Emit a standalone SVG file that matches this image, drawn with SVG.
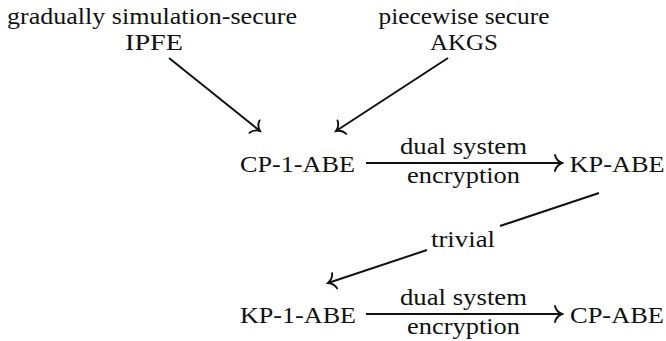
<svg xmlns="http://www.w3.org/2000/svg" width="666" height="341" viewBox="0 0 666 341">
<style>
text { font-family: "Liberation Serif", "DejaVu Serif", "Times New Roman", serif; font-size: 23px; fill: #111; text-anchor: middle; }
.edge { fill: none; stroke: #111; stroke-width: 2; marker-end: url(#to); }
</style>
<defs>
<marker id="to" markerUnits="userSpaceOnUse" markerWidth="24" markerHeight="24" viewBox="-12 -12 24 24" refX="0" refY="0" orient="auto" overflow="visible">
<path d="M-7,-8 C-6,-3.5 -2.5,-1 0,0 C-2.5,1 -6,3.5 -7,8" fill="none" stroke="#111" stroke-width="1.9" stroke-linecap="round"/>
</marker>
</defs>
<g id="ipfe">
<text x="152" y="24" textLength="290" lengthAdjust="spacingAndGlyphs">gradually simulation-secure</text>
<text x="154" y="50" textLength="58" lengthAdjust="spacingAndGlyphs">IPFE</text>
</g>
<g id="akgs">
<text x="464" y="24" textLength="171" lengthAdjust="spacingAndGlyphs">piecewise secure</text>
<text x="464" y="50" textLength="68" lengthAdjust="spacingAndGlyphs">AKGS</text>
</g>
<g id="cp1abe"><text x="297.5" y="172" textLength="115" lengthAdjust="spacingAndGlyphs">CP-1-ABE</text></g>
<g id="kpabe"><text x="617" y="172" textLength="95" lengthAdjust="spacingAndGlyphs">KP-ABE</text></g>
<g id="kp1abe"><text x="298" y="323" textLength="116" lengthAdjust="spacingAndGlyphs">KP-1-ABE</text></g>
<g id="cpabe"><text x="617" y="323" textLength="94" lengthAdjust="spacingAndGlyphs">CP-ABE</text></g>
<g id="connectors">
<path class="edge" d="M169,58 L260,131"/>
<path class="edge" d="M448,58 L336,131"/>
<path class="edge" d="M366,163 L562,163"/>
<text x="463.5" y="154" textLength="127" lengthAdjust="spacingAndGlyphs">dual system</text>
<text x="463.5" y="183" textLength="113" lengthAdjust="spacingAndGlyphs">encryption</text>
<path class="edge" d="M599,193 L500,226 M427,250 L328,283"/>
<text x="463" y="247" textLength="64" lengthAdjust="spacingAndGlyphs">trivial</text>
<path class="edge" d="M366,314 L562,314"/>
<text x="463.5" y="305" textLength="127" lengthAdjust="spacingAndGlyphs">dual system</text>
<text x="463.5" y="334" textLength="113" lengthAdjust="spacingAndGlyphs">encryption</text>
</g>
</svg>
